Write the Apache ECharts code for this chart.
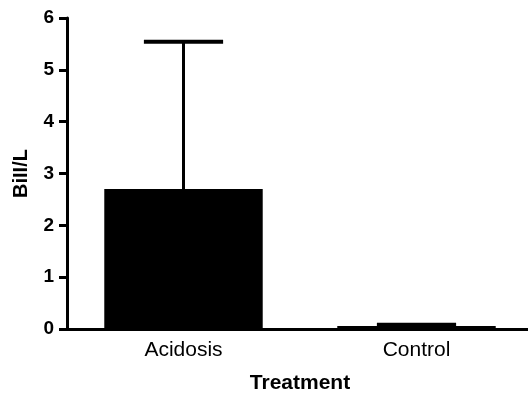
<!DOCTYPE html>
<html><head><meta charset="utf-8">
<script src="https://cdn.jsdelivr.net/npm/echarts@6/dist/echarts.min.js"></script>
<style>html,body{margin:0;padding:0;background:#fff}#c{width:528px;height:394px}</style>
</head><body><div id="c"></div>
<script>
const categories = ['Acidosis', 'Control'];
const means = [2.70, 0.06];
const errors = [2.84, 0.02];
const yTicks = [0, 1, 2, 3, 4, 5, 6];

const chart = echarts.init(document.getElementById('c'));
const font = '"Liberation Sans", Arial, sans-serif';
chart.setOption({
  animation: false,
  grid: { left: 67, top: 18, width: 466, height: 311, containLabel: false, outerBoundsMode: 'none' },
  xAxis: {
    type: 'category', data: categories,
    name: 'Treatment', nameLocation: 'middle', nameGap: 44,
    nameTextStyle: { fontFamily: font, fontWeight: 'bold', fontSize: 21, color: '#000' },
    axisLine: { lineStyle: { color: '#000', width: 3 } },
    axisTick: { alignWithLabel: true, length: 8, lineStyle: { color: '#000', width: 3 } },
    axisLabel: { fontFamily: font, fontSize: 21, color: '#000', margin: 11 }
  },
  yAxis: {
    type: 'value', min: 0, max: 6, interval: 1,
    name: 'BiII/L', nameLocation: 'middle', nameGap: 36,
    nameTextStyle: { fontFamily: font, fontWeight: 'bold', fontSize: 20, color: '#000' },
    axisLine: { show: true, lineStyle: { color: '#000', width: 3 } },
    axisTick: { show: true, length: 8, lineStyle: { color: '#000', width: 3 } },
    splitLine: { show: false },
    axisLabel: { fontFamily: font, fontWeight: 'bold', fontSize: 19, color: '#000', margin: 13,
      formatter: v => yTicks.includes(v) ? String(v) : '' }
  },
  series: [
    { type: 'bar', data: means, barWidth: '68%', itemStyle: { color: '#000' }, z: 2 },
    { type: 'custom', z: 3,
      data: means.map((m, i) => [i, m, m + errors[i]]),
      renderItem: function (params, api) {
        const i = api.value(0);
        const base = api.coord([i, api.value(1)]);
        const top = api.coord([i, api.value(2)]);
        const bw = api.size([1, 0])[0] * 0.68;
        const half = bw / 4;
        return { type: 'group', children: [
          { type: 'line', shape: { x1: top[0], y1: base[1], x2: top[0], y2: top[1] },
            style: { stroke: '#000', lineWidth: 3 } },
          { type: 'line', shape: { x1: top[0] - half, y1: top[1], x2: top[0] + half, y2: top[1] },
            style: { stroke: '#000', lineWidth: 4 } }
        ] };
      }
    }
  ]
});
</script></body></html>
